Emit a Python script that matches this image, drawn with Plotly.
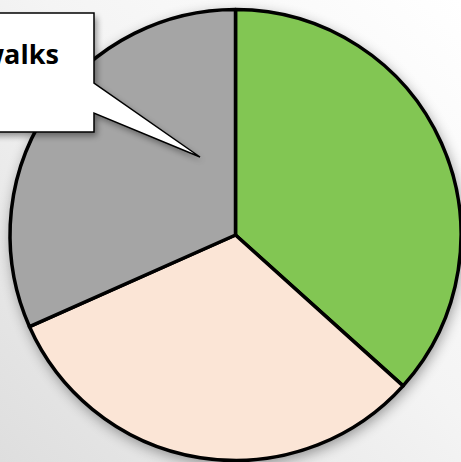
import base64
import plotly.graph_objects as go

# slice values, clockwise from 12 o'clock
labels = ["Hits", "Outs", "Walks"]
values = [22, 19, 19]
colors = ["#82C653", "#FBE5D6", "#A5A5A5"]

callout_text = "walks"

W, H = 461, 462


def px(x, y):
    # pixel position -> paper coordinates
    return x / W, 1 - y / H


def svg_uri(svg):
    return "data:image/svg+xml;base64," + base64.b64encode(svg.encode()).decode()


# background gradient and soft shadow under the pie
bg_svg = f"""<svg xmlns='http://www.w3.org/2000/svg' width='{W}' height='{H}'>
<defs>
<linearGradient id='g' x1='1' y1='0' x2='0' y2='1'>
<stop offset='0' stop-color='#ffffff'/><stop offset='0.45' stop-color='#f4f4f4'/><stop offset='1' stop-color='#dedede'/>
</linearGradient>
<filter id='b' x='-20%' y='-20%' width='140%' height='140%'><feGaussianBlur stdDeviation='7'/></filter>
</defs>
<rect width='{W}' height='{H}' fill='url(#g)'/>
<circle cx='237' cy='239' r='226' fill='#000' opacity='0.4' filter='url(#b)'/>
</svg>"""

# callout outline (pixels)
box = [(-30, 13), (94, 13), (94, 83), (200, 157), (94, 113), (94, 132), (-30, 132)]
shadow_pts = " ".join(f"{x + 3},{y + 4}" for x, y in box)
shadow_svg = f"""<svg xmlns='http://www.w3.org/2000/svg' width='{W}' height='{H}'>
<defs><filter id='c' x='-20%' y='-20%' width='140%' height='140%'><feGaussianBlur stdDeviation='3'/></filter></defs>
<polygon points='{shadow_pts}' fill='#000' opacity='0.4' filter='url(#c)'/>
</svg>"""

path = "M " + " L ".join("{:.5f},{:.5f}".format(*px(x, y)) for x, y in box) + " Z"

fig = go.Figure()

fig.add_trace(go.Pie(
    labels=labels,
    values=values,
    sort=False,
    direction="clockwise",
    rotation=0,
    marker=dict(colors=colors, line=dict(color="black", width=3.5)),
    textinfo="none",
    hoverinfo="skip",
    showlegend=False,
    domain=dict(x=[10 / W, 1], y=[0, 1 - 8 / H]),
))

fig.add_shape(
    type="path", path=path, xref="paper", yref="paper",
    fillcolor="white", line=dict(color="black", width=1.5), layer="above",
)

fig.add_annotation(
    text=f"<b>{callout_text}</b>",
    xref="paper", yref="paper",
    x=61 / W, y=1 - 53 / H,
    xanchor="right", yanchor="middle",
    showarrow=False,
    font=dict(family="Open Sans", size=27, color="black"),
)

fig.update_layout(
    width=W, height=H,
    margin=dict(l=0, r=0, t=0, b=0),
    paper_bgcolor="white",
    plot_bgcolor="white",
    images=[
        dict(source=svg_uri(bg_svg), xref="paper", yref="paper", x=0, y=1,
             sizex=1, sizey=1, xanchor="left", yanchor="top",
             sizing="stretch", layer="below"),
        dict(source=svg_uri(shadow_svg), xref="paper", yref="paper", x=0, y=1,
             sizex=1, sizey=1, xanchor="left", yanchor="top",
             sizing="stretch", layer="above"),
    ],
)

# drop the default page margin so the figure fills the window
fig.write_html("out.html", config={"displayModeBar": False},
               post_script="document.body.style.margin='0';")
